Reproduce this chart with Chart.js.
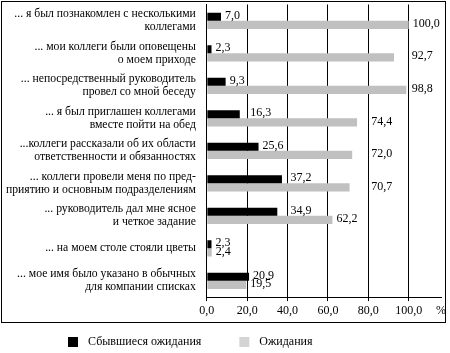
<!DOCTYPE html>
<html><head><meta charset="utf-8">
<script src="https://cdn.jsdelivr.net/npm/chart.js@4/dist/chart.umd.min.js"></script>
<style>html,body{margin:0;padding:0;background:#fff;}</style>
</head><body>
<canvas id="c" width="450" height="353"></canvas>
<script>
const categories = [
  ['... я был познакомлен с несколькими', 'коллегами'],
  ['... мои коллеги были оповещены', 'о моем приходе'],
  ['... непосредственный руководитель', 'провел со мной беседу'],
  ['... я был приглашен коллегами', 'вместе пойти на обед'],
  ['...коллеги рассказали об их области', 'ответственности и обязанностях'],
  ['... коллеги провели меня по пред-', 'приятию и основным подразделениям'],
  ['... руководитель дал мне ясное', 'и четкое задание'],
  ['... на моем столе стояли цветы'],
  ['... мое имя было указано в обычных', 'для компании списках']
];
const fulfilled = [7.0, 2.3, 9.3, 16.3, 25.6, 37.2, 34.9, 2.3, 20.9];
const expected  = [100.0, 92.7, 98.8, 74.4, 72.0, 70.7, 62.2, 2.4, 19.5];
const seriesNames = ['Сбывшиеся ожидания', 'Ожидания'];
const xTickValues = [0, 20, 40, 60, 80, 100];
const unitLabel = '%';

const FONT = '"Liberation Serif", "Times New Roman", serif';
const xAxisMax = 116;
const fmt = v => v.toFixed(1).replace('.', ',');

const valueLabels = {
  id: 'valueLabels',
  afterDatasetsDraw(chart) {
    const ctx = chart.ctx, xs = chart.scales.x;
    const grids = xTickValues.filter(v => v > 0).map(v => xs.getPixelForValue(v));
    ctx.save();
    ctx.font = '12px ' + FONT;
    ctx.fillStyle = '#000';
    ctx.textBaseline = 'middle';
    ctx.textAlign = 'left';
    chart.data.datasets.forEach((ds, di) => {
      const meta = chart.getDatasetMeta(di);
      meta.data.forEach((bar, i) => {
        const txt = fmt(ds.data[i]);
        const w = ctx.measureText(txt).width;
        let x = bar.x + 4;
        for (const g of grids) { if (x - 2 < g && x + w + 2 > g) x = g + 3; }
        ctx.fillText(txt, x, bar.y - 1);
      });
    });
    ctx.restore();
  }
};

const frameAndLegend = {
  id: 'frameAndLegend',
  afterDraw(chart) {
    const ctx = chart.ctx;
    ctx.save();
    ctx.strokeStyle = '#000';
    ctx.lineWidth = 1;
    const xs = chart.scales.x;
    ctx.strokeRect(1.5, 1.5, chart.width - 6, Math.round(xs.bottom) - 1);
    ctx.font = '12px ' + FONT;
    ctx.textBaseline = 'middle';
    ctx.textAlign = 'left';
    let x = 68;
    const y = Math.round(xs.bottom) + 20;
    chart.data.datasets.forEach(ds => {
      ctx.fillStyle = ds.legendColor || ds.backgroundColor;
      ctx.fillRect(x, y - 5, 10, 10);
      ctx.fillStyle = '#000';
      ctx.fillText(ds.label, x + 20, y);
      x += 20 + ctx.measureText(ds.label).width + 38;
    });
    ctx.restore();
  }
};

new Chart(document.getElementById('c'), {
  type: 'bar',
  data: {
    labels: categories,
    datasets: [
      { label: seriesNames[0], data: fulfilled, backgroundColor: '#000000', borderWidth: 0 },
      { label: seriesNames[1], data: expected, backgroundColor: '#c0c0c0', legendColor: '#d4d4d4', borderWidth: 0 }
    ]
  },
  options: {
    indexAxis: 'y',
    responsive: false,
    animation: false,
    devicePixelRatio: 1,
    layout: { padding: { top: 4.5, right: 9, bottom: 31.5, left: 3 } },
    datasets: { bar: { categoryPercentage: 0.5, barPercentage: 1.0 } },
    plugins: { legend: { display: false }, tooltip: { enabled: false } },
    scales: {
      x: {
        min: 0, max: xAxisMax,
        afterBuildTicks: s => { s.ticks = xTickValues.concat([xAxisMax]).map(v => ({ value: v })); },
        afterFit: s => { s.paddingLeft = 0; s.paddingRight = 0; },
        grid: {
          color: c => (c.tick && c.tick.value > 100) ? 'rgba(0,0,0,0)' : '#000',
          tickColor: c => (c.tick && c.tick.value > 100) ? 'rgba(0,0,0,0)' : '#000',
          lineWidth: 1, tickLength: 4, drawTicks: true
        },
        border: { display: true, color: '#000', width: 1 },
        ticks: {
          font: { family: FONT, size: 12 }, color: '#000', padding: 3,
          maxRotation: 0, autoSkip: false,
          callback: v => v > 100 ? unitLabel : fmt(v)
        }
      },
      y: {
        afterFit: s => { s.paddingTop = 0; s.paddingBottom = 0; },
        grid: { display: false },
        border: { display: true, color: '#000', width: 1 },
        ticks: { font: { family: FONT, size: 11.7, lineHeight: 1.1 }, color: '#000', padding: 3, autoSkip: false }
      }
    }
  },
  plugins: [valueLabels, frameAndLegend]
});
</script>
</body></html>
